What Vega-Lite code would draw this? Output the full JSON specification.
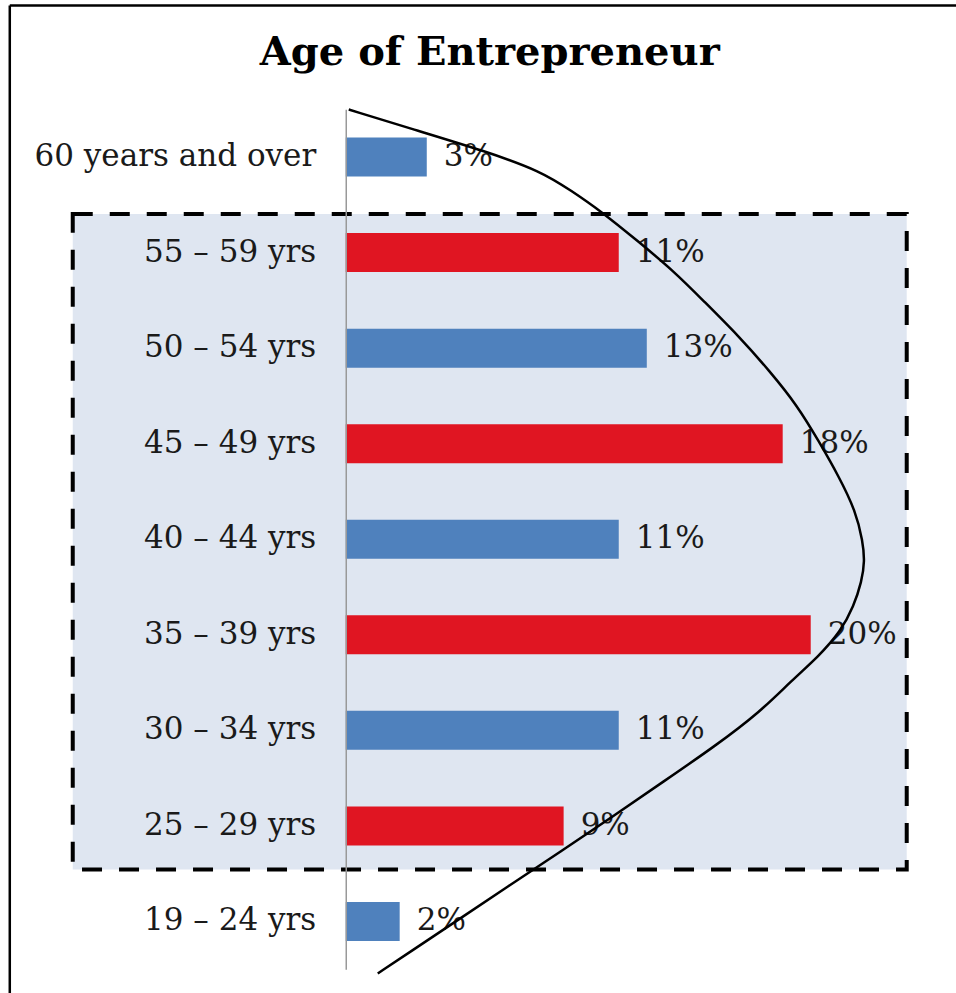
{
  "$schema": "https://vega.github.io/schema/vega-lite/v6.json",
  "width": 594,
  "height": 860,
  "padding": {"left": 7.75, "top": 3.25, "right": 0, "bottom": 0},
  "title": {"text": "Age of Entrepreneur", "font": "DejaVu Serif", "fontSize": 40, "fontWeight": "bold", "color": "#000000", "anchor": "middle", "dx": -153, "offset": -69},
  "config": {"view": {"stroke": null}, "font": "DejaVu Serif"},
  "datasets": {
    "bars": [
      {"age": "60 years and over", "value": 0.0341, "grp": "blue"},
      {"age": "55 – 59 yrs", "value": 0.1149, "grp": "red"},
      {"age": "50 – 54 yrs", "value": 0.1267, "grp": "blue"},
      {"age": "45 – 49 yrs", "value": 0.1839, "grp": "red"},
      {"age": "40 – 44 yrs", "value": 0.1149, "grp": "blue"},
      {"age": "35 – 39 yrs", "value": 0.1957, "grp": "red"},
      {"age": "30 – 34 yrs", "value": 0.1149, "grp": "blue"},
      {"age": "25 – 29 yrs", "value": 0.0917, "grp": "red"},
      {"age": "19 – 24 yrs", "value": 0.0227, "grp": "blue"}
    ],
    "box": [{"x0": -0.1149, "x1": 0.2361, "t0": 1.097, "t1": 7.955}],
    "frame": [
      {"x0": -0.1414, "x1": -0.1414, "t0": -1.087, "t1": 9.25},
      {"x0": -0.1414, "x1": 0.2570, "t0": -1.087, "t1": -1.087}
    ],
    "curve": [
      {"x": 0.00126, "t": 0.0026},
      {"x": 0.03072, "t": 0.2277},
      {"x": 0.05850, "t": 0.4372},
      {"x": 0.08207, "t": 0.6466},
      {"x": 0.09512, "t": 0.8560},
      {"x": 0.10732, "t": 1.0654},
      {"x": 0.12290, "t": 1.3796},
      {"x": 0.13805, "t": 1.6937},
      {"x": 0.15067, "t": 2.0079},
      {"x": 0.16540, "t": 2.3743},
      {"x": 0.17845, "t": 2.7408},
      {"x": 0.19024, "t": 3.1073},
      {"x": 0.19907, "t": 3.4738},
      {"x": 0.20749, "t": 3.8403},
      {"x": 0.21465, "t": 4.2068},
      {"x": 0.21759, "t": 4.5209},
      {"x": 0.21843, "t": 4.7304},
      {"x": 0.21717, "t": 4.9398},
      {"x": 0.21380, "t": 5.2016},
      {"x": 0.20833, "t": 5.4634},
      {"x": 0.19907, "t": 5.7251},
      {"x": 0.18729, "t": 5.9869},
      {"x": 0.17466, "t": 6.3010},
      {"x": 0.15530, "t": 6.6675},
      {"x": 0.13384, "t": 7.0340},
      {"x": 0.11237, "t": 7.4005},
      {"x": 0.09049, "t": 7.7670},
      {"x": 0.06818, "t": 8.1335},
      {"x": 0.04630, "t": 8.5000},
      {"x": 0.02736, "t": 8.8141},
      {"x": 0.01347, "t": 9.0445}
    ]
  },
  "layer": [
    {
      "layer": [
        {
          "data": {"name": "frame"},
          "mark": {"type": "rule", "stroke": "#000000", "strokeWidth": 2.5, "strokeCap": "butt"},
          "encoding": {
            "x": {"field": "x0", "type": "quantitative", "scale": {"domain": [0, 0.25], "nice": false, "zero": false}, "axis": null},
            "x2": {"field": "x1"},
            "y": {"field": "t0", "type": "quantitative", "scale": {"domain": [0, 9], "reverse": true, "nice": false, "zero": false}, "axis": null},
            "y2": {"field": "t1"}
          }
        },
        {
          "data": {"name": "box"},
          "mark": {"type": "rect", "fill": "#dfe6f1", "stroke": "#000000", "strokeWidth": 4, "strokeDash": [20, 17]},
          "encoding": {
            "x": {"field": "x0", "type": "quantitative", "scale": {"domain": [0, 0.25], "nice": false, "zero": false}, "axis": null},
            "x2": {"field": "x1"},
            "y": {"field": "t0", "type": "quantitative", "scale": {"domain": [0, 9], "reverse": true, "nice": false, "zero": false}, "axis": null},
            "y2": {"field": "t1"}
          }
        }
      ]
    },
    {
      "data": {"name": "bars"},
      "encoding": {
        "y": {
          "field": "age", "type": "nominal",
          "sort": ["60 years and over", "55 – 59 yrs", "50 – 54 yrs", "45 – 49 yrs", "40 – 44 yrs", "35 – 39 yrs", "30 – 34 yrs", "25 – 29 yrs", "19 – 24 yrs"],
          "scale": {"paddingInner": 0.592, "paddingOuter": 0.296},
          "axis": {"title": null, "ticks": false, "tickSize": 0, "labelPadding": 30, "labelFont": "DejaVu Serif", "labelFontSize": 31, "labelColor": "#1a1a1a", "labelLimit": 500, "domainColor": "#999999", "domainWidth": 1.5, "zindex": 1}
        }
      },
      "layer": [
        {
          "mark": {"type": "bar"},
          "encoding": {
            "x": {"field": "value", "type": "quantitative", "scale": {"domain": [0, 0.25], "nice": false, "zero": false}, "axis": null},
            "color": {"field": "grp", "type": "nominal", "scale": {"domain": ["blue", "red"], "range": ["#4f81bd", "#e01522"]}, "legend": null}
          }
        },
        {
          "mark": {"type": "text", "align": "left", "baseline": "middle", "dx": 17, "font": "DejaVu Serif", "fontSize": 31, "color": "#1a1a1a"},
          "encoding": {
            "x": {"field": "value", "type": "quantitative", "scale": {"domain": [0, 0.25], "nice": false, "zero": false}, "axis": null},
            "text": {"field": "value", "type": "quantitative", "format": ".0%"}
          }
        }
      ]
    },
    {
      "data": {"name": "curve"},
      "mark": {"type": "line", "stroke": "#000000", "strokeWidth": 2.5, "interpolate": "basis"},
      "encoding": {
        "x": {"field": "x", "type": "quantitative", "scale": {"domain": [0, 0.25], "nice": false, "zero": false}, "axis": null},
        "y": {"field": "t", "type": "quantitative", "scale": {"domain": [0, 9], "reverse": true, "nice": false, "zero": false}, "axis": null},
        "order": {"field": "t", "type": "quantitative"}
      }
    }
  ],
  "resolve": {"scale": {"y": "independent"}}
}
